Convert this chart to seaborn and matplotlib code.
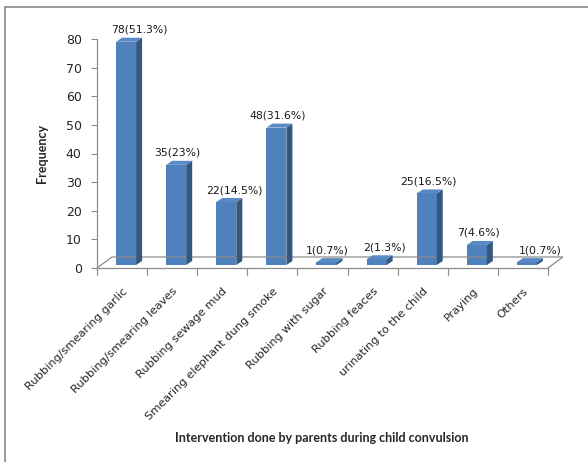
import matplotlib
matplotlib.use("Agg")
import matplotlib.pyplot as plt
from matplotlib.patches import Polygon
from matplotlib.lines import Line2D
from matplotlib.transforms import ScaledTranslation
import seaborn as sns
import pandas as pd

categories = [
    "Rubbing/smearing garlic",
    "Rubbing/smearing leaves",
    "Rubbing sewage mud",
    "Smearing elephant dung smoke",
    "Rubbing with sugar",
    "Rubbing feaces",
    "urinating to the child",
    "Praying",
    "Others",
]
counts = [78, 35, 22, 48, 1, 2, 25, 7, 1]
percents = ["51.3%", "23%", "14.5%", "31.6%", "0.7%", "1.3%", "16.5%", "4.6%", "0.7%"]
y_ticks = [0, 10, 20, 30, 40, 50, 60, 70, 80]

# horizontal nudge of each value label, pixels
label_nudge = [17, 5, 12, 5, 5, 12, 6, 6, 17]

FRONT = "#4F81BD"
SIDE = "#34577F"
TOP = "#5A8AC6"
AXIS_GRAY = "#8C8C8C"

df = pd.DataFrame({"intervention": categories, "frequency": counts})

sns.set_style("white")
plt.rcParams["font.family"] = ["DejaVu Sans"]

W, H, DPI = 588, 462, 100
fig = plt.figure(figsize=(W / DPI, H / DPI), dpi=DPI)
ax = fig.add_axes([97 / W, (H - 268) / H, 451 / W, (268 - 39) / H])

# Front faces of the columns
sns.barplot(data=df, x="intervention", y="frequency", color=FRONT,
            width=0.4, saturation=1, ax=ax, zorder=3)
ax.set_xlim(-0.5, len(categories) - 0.5)
ax.set_ylim(0, 80)

# Oblique projection: columns stand part-way into the floor depth
px = 1 / DPI
bar_shift = ScaledTranslation(4 * px, 3 * px, fig.dpi_scale_trans)
depth_dx, depth_dy = 6, 4            # column depth, pixels
floor_dx, floor_dy = 15, 11          # floor depth, pixels

to_px = ax.transData

for patch in ax.patches:
    patch.set_transform(ax.transData + bar_shift)
    patch.set_edgecolor("none")

for patch in list(ax.patches):
    x0 = patch.get_x()
    w = patch.get_width()
    h = patch.get_height()
    (lx, by) = to_px.transform((x0, 0))
    (rx, ty) = to_px.transform((x0 + w, h))
    lx += 4; rx += 4; by += 3; ty += 3
    side = [(rx, by), (rx + depth_dx, by + depth_dy),
            (rx + depth_dx, ty + depth_dy), (rx, ty)]
    top = [(lx, ty), (rx, ty), (rx + depth_dx, ty + depth_dy),
           (lx + depth_dx, ty + depth_dy)]
    for pts, col in ((side, SIDE), (top, TOP)):
        fig.patches.append(Polygon(pts, closed=True, transform=None,
                                   facecolor=col, edgecolor="none",
                                   zorder=4, figure=fig))

# Floor outline
(fx0, fy0) = to_px.transform((-0.5, 0))
(fx1, _) = to_px.transform((len(categories) - 0.5, 0))
floor_pts = [(fx0, fy0), (fx0 + floor_dx, fy0 + floor_dy),
             (fx1 + floor_dx, fy0 + floor_dy), (fx1, fy0)]
floor = Polygon(floor_pts, closed=False, transform=None, fill=False,
                edgecolor=AXIS_GRAY, linewidth=0.9, zorder=1, figure=fig)
fig.patches.insert(0, floor)

# Value labels
for i, (c, p) in enumerate(zip(counts, percents)):
    ax.annotate(f"{c}({p})", xy=(i, c), xytext=(label_nudge[i], 10),
                textcoords="offset pixels", ha="center", va="bottom",
                fontsize=7.8, color="#1a1a1a", zorder=6)

# Axes styling
for s in ("top", "right"):
    ax.spines[s].set_visible(False)
for s in ("left", "bottom"):
    ax.spines[s].set_color(AXIS_GRAY)
    ax.spines[s].set_linewidth(0.9)

ax.set_yticks(y_ticks)
ax.set_yticklabels([str(t) for t in y_ticks], fontsize=9)
ax.tick_params(axis="y", length=4, width=0.8, color=AXIS_GRAY, pad=7, left=True)

ax.set_xticks(range(len(categories)))
ax.set_xticklabels(categories, rotation=45, ha="right",
                   rotation_mode="anchor", fontsize=8.2)
ax.tick_params(axis="x", length=0, pad=13)
# boundary tick marks between categories
for b in range(len(categories) + 1):
    ax.add_line(Line2D([b - 0.5, b - 0.5], [0, 0], transform=ax.transData,
                       marker=3, markersize=5, color=AXIS_GRAY,
                       markeredgewidth=0.8, clip_on=False))

ax.set_xlabel("")
ax.set_ylabel("")
fig.text(42 / W, 1 - 153 / H, "Frequency", rotation=90, ha="center",
         va="center", fontsize=9, fontweight="bold", family="Lato")
fig.text(322 / W, 1 - 438 / H,
         "Intervention done by parents during child convulsion",
         ha="center", va="center", fontsize=9, fontweight="bold", family="Lato")

# Chart area frame
fig.add_artist(Line2D([5 / W, 5 / W], [0, 1 - 7 / H], color="#8a8a8a",
                      linewidth=1.2, transform=fig.transFigure))
fig.add_artist(Line2D([5 / W, 1], [1 - 7 / H, 1 - 7 / H], color="#8a8a8a",
                      linewidth=1.2, transform=fig.transFigure))

fig.savefig("out.png", dpi=DPI)
